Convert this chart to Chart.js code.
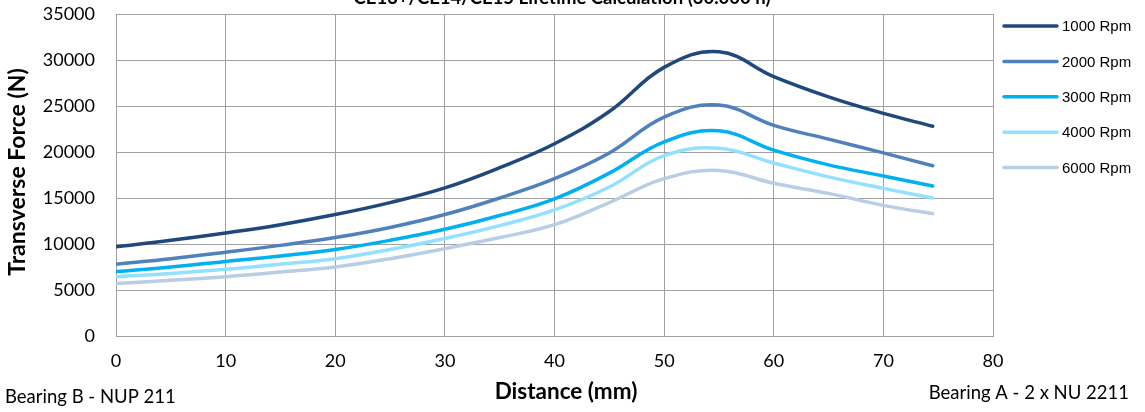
<!DOCTYPE html>
<html>
<head>
<meta charset="utf-8">
<script src="https://cdn.jsdelivr.net/npm/chart.js@4/dist/chart.umd.min.js"></script>
<style>
  html, body { margin: 0; padding: 0; background: #fff; }
  #wrap { width: 1145px; height: 412px; position: relative; }
</style>
</head>
<body>
<div id="wrap"><canvas id="chart"></canvas></div>
<script>
// distance along the shaft (mm)
const distances = [0, 5, 10, 15, 20, 25, 30, 35, 40, 45, 50, 55, 60, 65, 70, 74.5];

// transverse force (N) per speed
const rpm1000 = [9700, 10400, 11200, 12100, 13200, 14500, 16100, 18300, 20900, 24400, 29200, 30900, 28200, 26000, 24200, 22800];
const rpm2000 = [7800, 8400, 9100, 9850, 10700, 11800, 13200, 15000, 17100, 19900, 23800, 25100, 22900, 21400, 19900, 18500];
const rpm3000 = [7000, 7500, 8100, 8700, 9400, 10400, 11600, 13100, 14900, 17700, 21100, 22300, 20200, 18600, 17400, 16300];
const rpm4000 = [6450, 6800, 7250, 7800, 8400, 9400, 10600, 12000, 13700, 16200, 19600, 20400, 18800, 17300, 16050, 15000];
const rpm6000 = [5700, 6050, 6450, 6950, 7500, 8400, 9500, 10700, 12100, 14500, 17100, 18000, 16600, 15500, 14200, 13300];

const seriesLabels = ['1000 Rpm', '2000 Rpm', '3000 Rpm', '4000 Rpm', '6000 Rpm'];
const seriesValues = [rpm1000, rpm2000, rpm3000, rpm4000, rpm6000];
const seriesColors = ['#1F497D', '#4F81BD', '#00B0F0', '#93E0FF', '#B9CDE5'];

const chartTitle = 'CE13+/CE14/CE15 Lifetime Calculation (30.000 h)';
const xTitle = 'Distance (mm)';
const yTitle = 'Transverse Force (N)';
const leftNote = 'Bearing B - NUP 211';
const rightNote = 'Bearing A - 2 x NU 2211';

const gridColor = '#A0A0A0';

function toPoints(values) {
    return values.map((v, i) => ({ x: distances[i], y: v }));
}

// title, axis titles, legend and bearing notes drawn on the canvas
const extrasPlugin = {
    id: 'extras',
    afterDraw(chart) {
        const ctx = chart.ctx;
        ctx.save();

        ctx.fillStyle = '#000';
        ctx.font = 'bold 18.5px Lato';
        ctx.textAlign = 'center';
        ctx.textBaseline = 'alphabetic';
        ctx.fillText(chartTitle, 562, 4);

        ctx.textBaseline = 'middle';
        ctx.font = 'bold 22.5px Lato';
        ctx.fillText(xTitle, 566, 392);

        ctx.save();
        ctx.translate(18, 172);
        ctx.rotate(-Math.PI / 2);
        ctx.font = 'bold 23px Lato';
        ctx.fillText(yTitle, 0, 0);
        ctx.restore();

        ctx.font = '18.5px Lato';
        ctx.textAlign = 'left';
        ctx.fillText(leftNote, 5, 397);
        ctx.textAlign = 'right';
        ctx.fillText(rightNote, 1129, 393);

        ctx.font = '15px "Liberation Sans", Arial';
        ctx.textAlign = 'left';
        seriesLabels.forEach((label, i) => {
            const y = 26 + i * 35.4;
            ctx.strokeStyle = seriesColors[i];
            ctx.lineWidth = 3.5;
            ctx.lineCap = 'round';
            ctx.beginPath();
            ctx.moveTo(1004, y);
            ctx.lineTo(1057, y);
            ctx.stroke();
            ctx.fillStyle = '#000';
            ctx.fillText(label, 1062, y + 1);
        });

        ctx.restore();
    }
};

new Chart(document.getElementById('chart'), {
    type: 'line',
    data: {
        datasets: seriesLabels.map((label, i) => ({
            label,
            data: toPoints(seriesValues[i]),
            borderColor: seriesColors[i],
            backgroundColor: seriesColors[i],
            borderWidth: 3.5,
            borderCapStyle: 'round',
            pointRadius: 0,
            tension: 0.4,
            fill: false,
        })),
    },
    options: {
        responsive: true,
        maintainAspectRatio: false,
        animation: false,
        layout: { padding: { top: 14, right: 152, bottom: 0, left: 0 } },
        plugins: {
            legend: { display: false },
            title: { display: false },
            tooltip: { enabled: false },
        },
        scales: {
            x: {
                type: 'linear',
                min: 0,
                max: 80,
                afterFit(scale) {
                    scale.height = 76;
                    scale.paddingLeft = 0;
                    scale.paddingRight = 0;
                },
                border: { color: gridColor, width: 1 },
                grid: { color: gridColor, drawTicks: false },
                ticks: {
                    stepSize: 10,
                    padding: 14,
                    color: '#000',
                    font: { family: 'Lato', size: 18 },
                },
            },
            y: {
                min: 0,
                max: 35000,
                afterFit(scale) {
                    scale.width = 116;
                    scale.paddingTop = 0;
                    scale.paddingBottom = 0;
                },
                border: { color: gridColor, width: 1 },
                grid: { color: gridColor, drawTicks: false },
                ticks: {
                    stepSize: 5000,
                    padding: 21,
                    color: '#000',
                    font: { family: 'Lato', size: 18 },
                    callback: (value) => String(value),
                },
            },
        },
    },
    plugins: [extrasPlugin],
});
</script>
</body>
</html>
